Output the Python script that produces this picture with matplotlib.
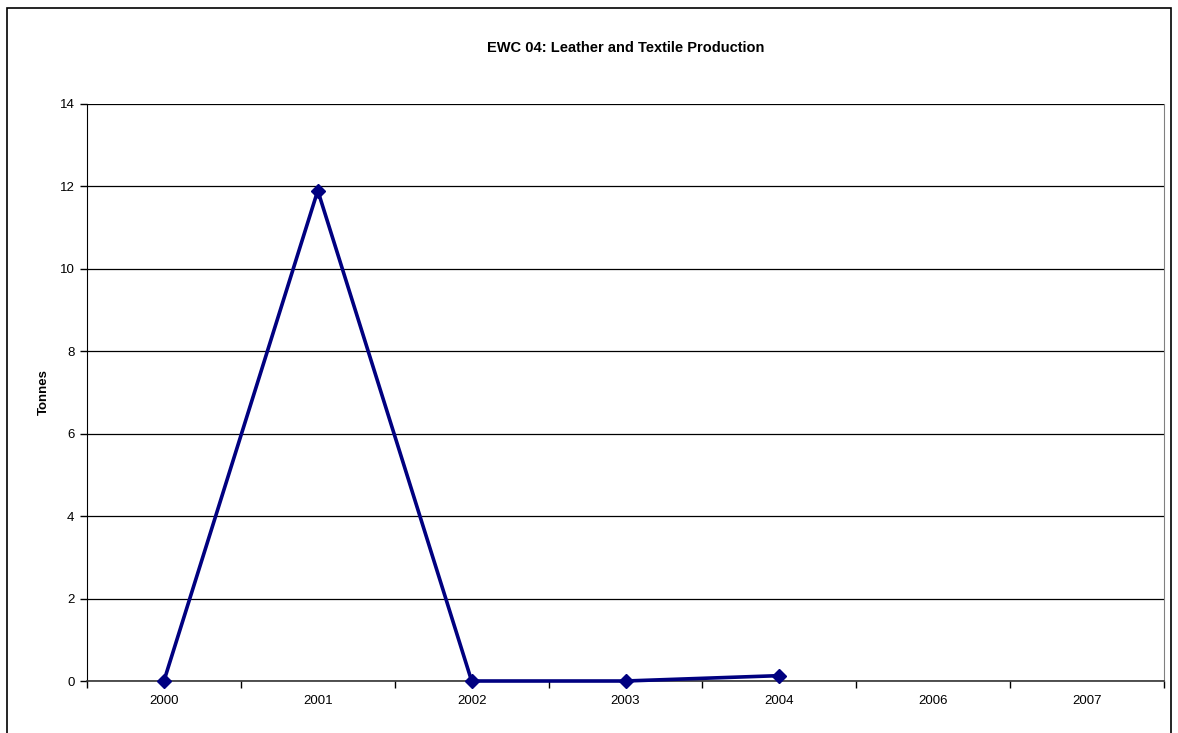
import numpy as np
import matplotlib.pyplot as plt
from matplotlib.patches import Rectangle

plt.rcParams['font.family'] = ['Liberation Sans', 'DejaVu Sans']

years = ['2000', '2001', '2002', '2003', '2004', '2006', '2007']
tonnes = [0.0, 11.9, 0.0, 0.0, 0.13, np.nan, np.nan]

fig = plt.figure(figsize=(11.78, 7.33), dpi=100)
ax = fig.add_axes([87/1178, 52/733, (1164-87)/1178, (681-104)/733])

# outer chart border
fig.patches.append(Rectangle((7/1178, -0.05), (1171-7)/1178, 725/733 + 0.05,
                             transform=fig.transFigure, fill=False,
                             edgecolor='black', linewidth=1.2))

x = np.arange(len(years))
ax.plot(x, tonnes, color='#000080', linewidth=2.6, marker='D', markersize=7.5,
        markerfacecolor='#000080', markeredgecolor='#000080', clip_on=False, zorder=5)

ax.set_xlim(-0.5, len(years) - 0.5)
ax.set_ylim(0, 14)
ax.set_yticks(range(0, 15, 2))
ax.set_xticks(x)
ax.set_xticklabels(years)
ax.set_xticks(np.arange(-0.5, len(years), 1), minor=True)
ax.tick_params(axis='x', which='major', length=0, pad=10, labelsize=9.5)
ax.tick_params(axis='x', which='minor', length=5, direction='out', width=1)
ax.tick_params(axis='y', length=5, direction='out', width=1, labelsize=9.5, pad=4)

ax.yaxis.grid(True, color='black', linewidth=0.9)
ax.set_axisbelow(True)
ax.spines['top'].set_visible(False)
ax.spines['right'].set_color('#808080')
ax.spines['left'].set_color('black')
ax.spines['bottom'].set_color('#333333')
ax.spines['bottom'].set_linewidth(1.2)

ax.set_ylabel('Tonnes', fontsize=9.5, fontweight='bold', labelpad=7)
fig.text((87+1164)/2/1178, 1 - 48/733, 'EWC 04: Leather and Textile Production',
         ha='center', va='center', fontsize=10.5, fontweight='bold')

fig.savefig('out.png', dpi=100)
